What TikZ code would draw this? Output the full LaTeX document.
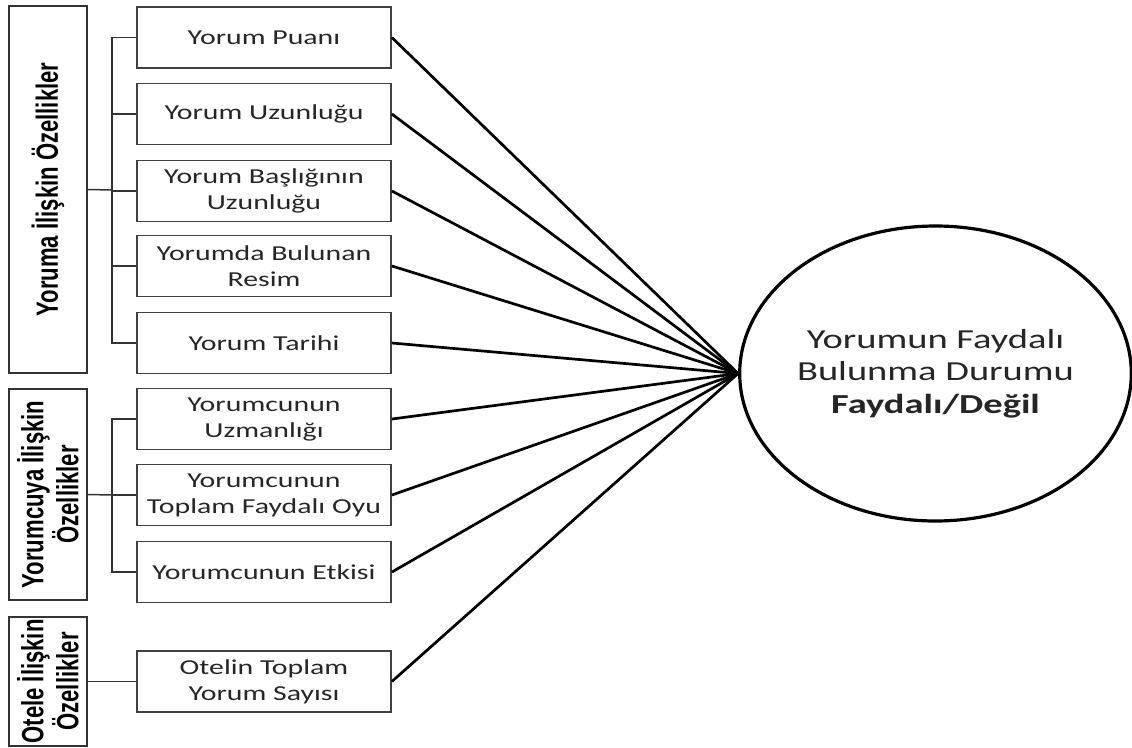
\documentclass[tikz,border=0pt]{standalone}
\usepackage{fontspec}
\setmainfont{Carlito}[FakeStretch=1.4]
\newfontfamily\grpfont{Liberation Sans}[FakeStretch=0.72]
\usetikzlibrary{shapes.geometric}
\begin{document}
\begin{tikzpicture}[x=1pt,y=-1pt,
    feat/.style={draw=black!75, line width=1.8pt, minimum width=254pt, minimum height=61pt,
        inner sep=0pt, align=center, text=black!85, font=\fontsize{21.3}{26}\selectfont},
    grp/.style={draw=black!80, line width=1.8pt, rotate=90, minimum height=78pt, inner sep=0pt,
        align=center, font=\grpfont\bfseries\fontsize{30.7}{35}\selectfont},
    link/.style={line width=2.7pt},
    brace/.style={line width=1.5pt, black!80}]
    \useasboundingbox (0,0) rectangle (1132,747);
    % gruplar
    \node[grp, minimum width=367pt] (G1) at (48,189.5){Yoruma İlişkin Özellikler};
    \node[grp, minimum width=211pt] (G2) at (48,494.5){Yorumcuya İlişkin\\Özellikler};
    \node[grp, minimum width=129pt] (G3) at (48,681.5){Otele İlişkin\\Özellikler};
    % ozellikler
    \node[feat] (F1) at (264,37.5){Yorum Puanı};
    \node[feat] (F2) at (264,114){Yorum Uzunluğu};
    \node[feat] (F3) at (264,191){Yorum Başlığının\\Uzunluğu};
    \node[feat] (F4) at (264,266){Yorumda Bulunan\\Resim};
    \node[feat] (F5) at (264,343){Yorum Tarihi};
    \node[feat] (F6) at (264,419){Yorumcunun\\Uzmanlığı};
    \node[feat] (F7) at (264,495){Yorumcunun\\Toplam Faydalı Oyu};
    \node[feat] (F8) at (264,572){Yorumcunun Etkisi};
    \node[feat] (F9) at (264,681.5){Otelin Toplam\\Yorum Sayısı};
    % sonuc
    \node[ellipse, draw, line width=3.2pt, inner sep=0pt, minimum width=385pt, minimum height=295pt,
        align=center, font=\fontsize{27.5}{32.5}\selectfont, text=black!85] (res) at (935.5,373.5)
        {Yorumun Faydalı\\Bulunma Durumu\\\textbf{Faydalı/Değil}};
    % baglantilar
    \coordinate (j1) at (112,190);
    \coordinate (j2) at (112,495);
    \draw[brace] (G1.south) -- (j1);
    \draw[brace] (F1.west) -| (j1) |- (F5.west);
    \foreach \i in {2,3,4} \draw[brace] (F\i.west) -- (F\i.west -| j1);
    \draw[brace] (G2.south) -- (j2);
    \draw[brace] (F6.west) -| (j2) |- (F8.west);
    \draw[brace] (F7.west) -- (F7.west -| j2);
    \draw[brace] (G3.south) -- (F9.west);
    \foreach \i in {1,...,9} \draw[link] (F\i.east) -- (res.west);
\end{tikzpicture}
\end{document}
